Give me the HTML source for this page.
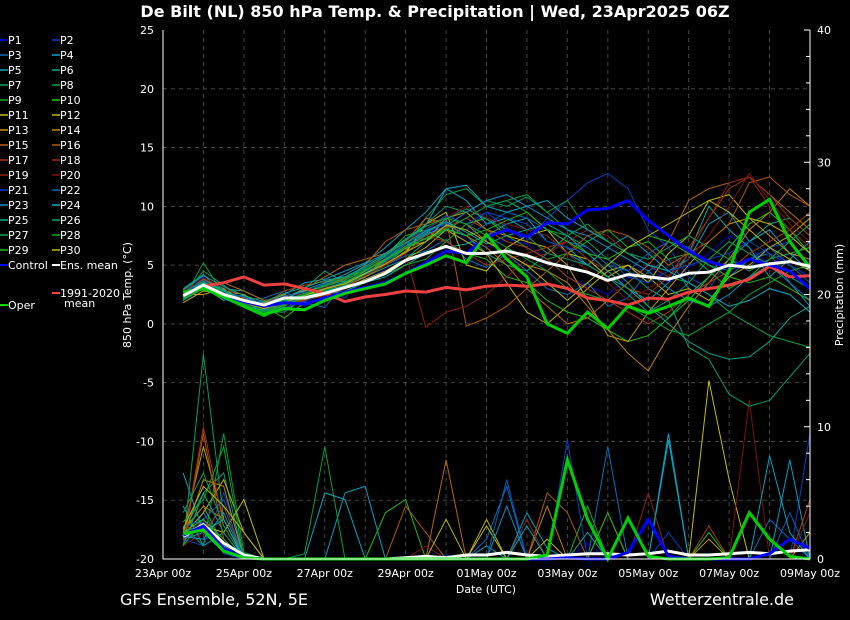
<!DOCTYPE html>
<html><head><meta charset="utf-8">
<style>
body{margin:0;background:#000;}
svg{display:block;font-family:"DejaVu Sans","Liberation Sans",sans-serif;}
</style></head>
<body>
<svg id="chart" width="850" height="620" viewBox="0 0 850 620">
<rect width="850" height="620" fill="#000"/>
<text x="435" y="17" fill="#fff" font-size="16" font-weight="bold" text-anchor="middle">De Bilt  (NL)  850 hPa Temp. &amp; Precipitation | Wed, 23Apr2025 06Z</text>
<g id="grid"></g>
<g id="precip"></g>
<g id="temps"></g>
<g id="axes"></g>
<g id="legend"></g>
<text x="131" y="295" fill="#fff" font-size="11" text-anchor="middle" transform="rotate(-90 131 295)">850 hPa Temp. (°C)</text>
<text x="843" y="295" fill="#fff" font-size="11" text-anchor="middle" transform="rotate(-90 843 295)">Precipitation (mm)</text>
<text x="486" y="593" fill="#fff" font-size="11" text-anchor="middle">Date (UTC)</text>
<text x="120" y="605" fill="#fff" font-size="16">GFS Ensemble, 52N, 5E</text>
<text x="794" y="605" fill="#fff" font-size="16" text-anchor="end">Wetterzentrale.de</text>
</svg>
<script>
// ---- data ----
const days0 = 0.5, stepDays = 0.5; // series start 23Apr 12z, 12-hourly
const xTickLabels = ["23Apr 00z","25Apr 00z","27Apr 00z","29Apr 00z","01May 00z","03May 00z","05May 00z","07May 00z","09May 00z"];
const yTicks = [25,20,15,10,5,0,-5,-10,-15,-20];
const y2Ticks = [40,30,20,10,0];
const ensMean = [2.4,3.3,2.5,2.0,1.6,2.2,2.2,2.6,3.1,3.6,4.3,5.4,6.0,6.6,6.0,6.0,6.2,5.8,5.2,4.8,4.4,3.7,4.2,4.0,3.8,4.3,4.4,5.0,4.8,5.1,5.3,4.9];
const control = [2.6,3.2,2.4,1.9,1.5,1.8,1.7,2.2,2.7,3.1,3.5,4.3,5.2,6.2,6.0,7.4,8.0,7.4,8.6,8.5,9.7,9.8,10.5,8.8,7.5,6.2,5.3,4.8,5.5,5.0,4.5,3.0];
const oper = [2.7,3.0,2.3,1.5,0.8,1.3,1.2,2.0,2.6,3.0,3.4,4.3,5.0,5.8,5.2,7.6,5.5,4.0,0.0,-0.8,1.0,-0.4,1.5,0.9,1.5,2.2,1.5,4.5,9.5,10.6,7.0,4.8];
const clim = [2.6,3.2,3.5,4.0,3.3,3.4,3.0,2.6,1.9,2.3,2.5,2.8,2.7,3.1,2.9,3.2,3.3,3.2,3.4,3.0,2.2,2.0,1.6,2.2,2.1,2.7,3.0,3.3,3.8,4.9,4.0,4.1];
const pertT = [
[2.8,4.0,2.6,1.8,1.2,2.0,1.5,2.4,3.0,3.8,4.6,6.0,7.5,8.8,7.0,6.5,7.2,6.8,5.5,4.0,3.2,2.5,4.0,5.0,3.5,4.8,6.0,7.5,6.5,5.0,6.0,5.5],
[2.2,3.6,2.0,2.5,1.0,1.5,2.8,3.0,2.2,4.0,5.5,6.5,7.8,8.5,8.0,9.5,8.2,7.0,9.0,10.5,12.0,12.8,11.5,8.0,6.5,4.0,3.0,5.5,4.8,6.5,7.0,5.0],
[2.5,3.0,3.2,2.0,2.2,2.8,1.8,1.4,3.5,4.2,5.0,5.8,6.2,7.2,5.5,4.8,6.0,4.5,3.0,2.5,3.5,1.5,2.2,4.5,5.5,3.0,2.0,4.0,5.5,6.0,3.5,2.0],
[2.0,3.5,2.8,1.5,0.8,2.5,3.5,3.8,4.5,5.2,6.5,8.0,9.5,11.5,10.5,8.5,9.0,8.0,7.5,6.0,5.0,6.5,7.5,6.0,4.5,5.5,8.5,9.5,7.0,8.0,6.0,4.5],
[3.0,4.2,2.5,2.2,1.8,1.2,2.0,2.5,2.8,3.5,4.0,5.0,6.0,6.5,6.8,7.5,8.5,9.0,7.0,6.5,5.0,4.0,3.0,2.0,3.5,6.0,10.0,8.0,6.5,4.0,5.5,7.0],
[2.6,3.8,3.0,2.8,2.0,2.2,3.0,4.5,3.5,4.0,4.8,5.5,7.0,8.0,7.5,6.0,5.0,4.5,6.0,7.5,6.5,5.0,3.5,1.5,0.5,2.5,4.0,5.5,7.0,8.5,9.0,7.5],
[2.4,4.5,3.3,2.0,1.0,1.0,2.2,3.2,3.8,4.5,5.5,6.8,8.5,10.0,9.5,10.5,10.0,10.8,9.5,8.0,7.0,5.5,4.5,3.0,2.0,-2.0,-3.0,-6.0,-7.0,-6.5,-4.5,-2.5],
[2.1,5.2,2.5,1.5,1.3,2.0,2.3,2.8,3.2,4.0,5.0,6.5,9.0,11.0,11.5,10.0,10.5,11.0,9.5,10.5,8.0,7.0,6.0,5.0,4.0,3.5,2.5,1.0,0.0,-1.0,-1.5,-2.0],
[2.9,3.4,2.2,1.4,0.6,1.5,2.5,3.0,3.0,3.5,4.2,5.0,5.5,7.0,8.5,9.0,7.5,6.5,5.5,6.0,7.0,8.0,6.5,7.0,5.5,6.0,4.5,3.0,4.0,5.5,6.0,6.5],
[2.3,3.1,2.0,2.4,1.5,0.5,1.8,3.5,4.0,4.5,5.8,7.5,8.0,7.0,6.0,5.5,4.0,3.5,2.0,1.0,0.5,-0.5,-1.5,-1.0,0.5,2.0,4.0,6.5,8.5,9.5,8.0,6.0],
[1.8,2.8,2.6,2.0,1.0,1.8,2.0,2.5,3.0,4.5,5.0,6.0,8.5,9.5,5.0,4.5,6.5,7.5,8.0,6.0,5.5,4.0,5.0,3.5,6.0,7.5,10.5,11.0,9.0,8.5,7.5,6.0],
[2.0,3.2,2.8,2.5,1.5,2.2,2.8,3.2,3.0,3.8,4.5,5.5,6.5,8.0,7.0,6.0,3.5,1.0,0.0,1.5,3.0,4.5,5.0,4.0,2.5,3.0,2.0,4.0,5.0,6.5,7.5,9.0],
[2.5,2.5,3.0,1.5,1.8,2.5,2.0,3.0,3.5,4.2,5.5,6.5,7.0,9.0,9.5,8.0,7.5,7.0,6.5,5.0,2.0,-1.0,-1.5,1.0,3.0,5.0,7.0,8.5,9.0,7.5,6.0,5.5],
[2.7,3.6,2.4,1.6,1.2,2.0,2.2,2.6,3.2,4.0,5.0,6.2,8.0,9.2,8.5,7.0,6.0,5.0,4.5,3.5,1.5,-0.5,-2.5,-4.0,-1.0,1.5,3.5,5.5,8.0,9.5,11.5,10.0],
[2.2,3.0,3.5,2.8,2.0,2.0,3.0,4.0,5.0,5.5,6.0,7.0,9.0,8.5,7.5,6.5,5.0,3.0,1.5,0.0,0.5,2.0,3.5,5.0,7.0,10.5,11.5,12.0,12.5,11.0,9.5,8.0],
[2.6,3.8,2.8,2.2,1.4,1.2,2.5,3.3,3.8,5.0,7.0,8.0,8.5,9.0,-0.2,0.5,1.5,3.0,4.5,6.0,7.5,8.0,7.5,6.5,5.0,6.0,7.0,8.5,12.0,12.5,11.0,10.0],
[3.0,3.5,2.6,1.8,1.6,2.8,3.3,3.6,4.0,4.8,5.5,6.5,7.5,8.2,9.0,8.0,7.0,6.5,5.5,4.0,3.0,2.0,1.0,0.0,1.0,2.5,3.5,4.5,6.0,7.0,8.0,9.5],
[2.4,3.0,2.2,1.9,1.1,1.6,2.0,2.4,3.0,4.4,5.2,6.0,7.5,7.0,6.0,5.0,5.5,6.0,6.5,7.0,5.5,4.5,3.0,2.5,4.0,6.5,9.0,11.5,12.5,11.0,9.0,7.5],
[2.1,3.3,2.5,1.7,1.3,1.7,2.1,2.9,3.4,4.1,5.0,6.0,-0.3,1.0,1.5,2.5,4.0,5.5,6.0,7.0,8.0,7.5,6.0,5.0,4.0,6.0,9.0,12.0,12.5,10.0,8.0,6.5],
[2.8,3.9,3.1,2.1,1.5,2.3,2.6,3.1,3.5,4.6,5.8,7.0,8.0,9.0,10.0,9.0,8.5,8.0,7.5,6.0,4.5,3.5,2.0,3.0,4.0,5.5,7.5,10.0,12.8,10.5,8.5,7.0],
[2.3,3.4,2.1,1.5,1.0,1.4,1.9,2.7,3.3,4.4,5.6,7.2,8.0,9.2,8.5,9.5,9.0,8.5,7.0,6.5,6.0,5.5,4.0,3.5,4.5,5.0,5.5,6.0,7.0,6.0,5.0,4.0],
[2.7,3.7,2.7,2.3,1.7,2.4,2.7,3.4,3.9,4.8,5.7,6.8,7.8,8.6,7.5,8.5,9.5,9.0,8.0,7.0,6.5,5.0,4.5,6.0,7.0,6.5,5.0,4.5,5.5,6.5,5.0,3.5],
[2.0,3.0,2.3,1.6,1.2,1.9,2.4,3.0,3.6,4.3,5.3,6.4,7.6,8.3,9.5,10.5,11.0,10.0,9.0,8.0,7.5,6.5,5.5,4.5,3.0,2.0,1.5,2.5,4.0,5.0,3.5,1.5],
[2.5,3.5,2.9,2.0,1.4,2.1,2.9,3.5,4.2,5.1,6.0,7.2,8.4,11.5,11.8,10.0,9.5,10.0,10.5,9.0,8.0,7.0,6.0,5.0,4.5,3.5,2.5,1.5,2.0,3.0,2.5,1.0],
[2.9,4.1,3.2,2.4,1.9,2.6,3.1,3.7,4.0,4.9,5.9,6.9,7.9,8.7,7.8,6.8,7.5,8.0,8.5,7.5,6.0,4.5,3.0,1.5,0.0,-1.5,-2.5,-3.0,-2.8,-1.5,0.5,1.5],
[2.2,3.1,2.4,1.7,1.0,1.7,2.3,2.8,3.3,4.2,5.4,6.6,7.7,8.9,9.8,8.9,8.0,7.5,6.0,5.5,5.0,4.0,2.5,1.0,2.0,3.5,5.5,7.0,6.0,5.0,4.0,3.0],
[2.6,3.6,2.6,2.1,1.6,2.0,2.6,3.2,3.7,4.6,5.5,6.6,7.2,8.0,9.0,10.0,10.5,9.5,8.0,7.5,8.5,7.0,6.0,5.5,6.5,7.5,6.5,5.5,4.5,5.5,7.0,8.5],
[2.4,3.4,2.8,1.9,1.1,1.9,2.5,3.3,3.9,4.7,5.8,7.1,8.3,9.0,8.5,7.5,6.5,5.5,4.5,3.0,2.5,2.0,1.5,0.5,-0.5,-1.0,0.0,1.0,2.5,3.5,4.5,5.0],
[2.1,3.0,2.4,1.6,0.9,1.6,2.2,2.9,3.5,4.5,5.5,6.4,7.3,8.1,7.5,8.0,8.8,9.5,8.0,7.0,6.0,5.5,6.5,7.5,7.0,6.0,5.0,4.0,3.5,4.0,3.0,2.0],
[2.3,3.2,2.5,1.8,1.3,1.8,2.4,3.0,3.4,4.3,5.1,6.1,7.0,8.4,8.0,7.0,6.0,5.0,3.5,2.0,3.5,5.0,6.5,7.5,8.5,9.5,10.5,9.5,8.0,6.5,5.5,4.5]
];
const meanP = [1.7,2.6,1.2,0.3,0.0,0.0,0.0,0.0,0.0,0.0,0.0,0.1,0.2,0.1,0.3,0.3,0.5,0.3,0.2,0.3,0.4,0.4,0.3,0.4,0.6,0.3,0.3,0.4,0.5,0.4,0.6,0.7];
const controlP = [1.8,2.5,0.8,0.1,0,0,0,0,0,0,0,0,0,0,0,0,0,0,0,0.1,0,0,0.5,3.0,0.2,0,0,0,0,0.4,1.5,0.8];
const operP = [1.9,2.2,0.6,0.1,0,0,0,0,0,0,0,0,0,0,0,0,0,0,0.3,7.5,3.0,0.0,3.1,0.2,0,0,0,0.1,3.5,1.5,0.2,0];
const pertP = [
[2.0,3.0,1.5,0,0,0,0,0,0,0,0,0,0,0,0,0,0,0,0,0,1.2,0,0,0,0,0,0,0,0,0,0,0],
[1.5,1.0,5.0,0.5,0,0,0,0,0,0,0,0,0,0.3,0,0,0,0,0,0,0,0,0,0,2.0,0,0,0,0,0,0,9.5],
[1.2,3.5,1.0,0,0,0,0,0,0,0,0,0,0,0,0,1.5,5.5,0,0,0,0,8.5,0,0,0,0,0,0,0,3.0,1.5,0],
[4.0,1.0,2.0,0,0,0,0,0,5.0,5.5,0,0,0,0,0,1.0,0,3.5,0.8,0,0,0,0,0,9.0,0,0,0,0,0,7.5,0],
[1.5,2.0,0.5,0,0,0,0,0,0,0,0,0,0,0,0,0,0,0,0,0,0,0,0,0,0,0,0,0,0,0,0,0],
[2.0,5.0,6.5,0,0,0,0,0.1,0,0,0,0,0,0,0,0,0,0,0,0,0,0,0,0,0,0,0,0,0,0,0,0],
[1.0,15.5,3.0,0,0,0,0,0,0,0,0,0,0,0,0,0,0,0,0,0,0,0,0,0,0,0,0,0,0,0,0,0],
[2.5,1.0,9.5,0.5,0,0,0.4,8.5,0,0,0,0,0,0,0,0,0,0,0,0,0,0,0,0,0,0,0,0,0,0,0,0],
[1.0,3.0,1.0,0,0,0,0,0,0,0,0,0,0,0,0,0,0,0,0,0,4.0,0,0,0,0,0,0,0,0,0,0,0],
[2.2,4.0,1.0,0,0,0,0,0,0,0,3.5,4.5,0,0,0,0,0,0,0,0,0,0,0,0,0,0,2.0,0,0,0,0,0],
[1.5,2.5,2.0,4.5,0,0,0,0,0,0,0,0,0,0,0,2.5,0,0,1.5,0,0,0,0,0,0,0,13.5,6.0,0,0,0,0],
[1.8,3.5,6.0,2.0,0,0,0,0,0,0,0,0,0,0,0,3.0,0,0,0,0,0,0,0,0,0,0,0,0,0,0,0,0],
[2.0,8.5,3.0,0,0,0,0,0,0,0,0,0,0,0,0,0,0,0,0,0,0,0,0,0,0,0,1.5,0,0,0,0,2.0],
[1.5,6.0,5.5,0,0,0,0,0,0,0,0,0,0,0,0,0,0,0,4.0,0,0,3.5,0,0,0,0,0,0,0,0,0,0],
[2.0,4.0,3.0,0,0,0,0,0,0,0,0,0,0,7.5,0,0,0,0,0,0,0,0,0,0,0,0,0,0,0,0,0,0],
[1.0,9.5,1.5,0,0,0,0,0,0,0,0,4.0,2.0,0,0,0,0,0,5.0,3.5,0,0,0,0,0,0,0,0,0,0,0,0],
[2.5,2.0,4.0,0,0,0,0,0,0,0,0,0,0,0,0,0,0,0,0,0,0,0,0,0,0,0,2.5,0,0,0,0,4.5],
[1.2,10.0,2.5,0,0,0,0,0,0,0,0,0,0,0,0,0,0,0,0,0,0,0,0,0,0,0,0,0,0,0,0,0],
[1.5,3.0,0.5,0,0,0,0,0,0,0,0,0,0,0,0,0,0,3.0,0,0,0,0,0,5.0,0,0,0,0,0,0,0,0],
[1.0,2.0,1.0,0,0,0,0,0,0,0,0,0,1.0,0,0,0,0,0,0,0,0,0,0,0,0,0,0,0,12.0,0,0,3.5],
[1.3,2.8,0.4,0,0,0,0,0,0,0,0,0,0,0,0,0,0,0,0,9.0,0,0,0,0,0,0,0,0,0,0,0,0],
[2.4,3.0,4.5,0,0,0,0,0,0,0,0,0,0,0,0,0,6.0,0,0,0,0,0,0,0,0,0,0,0,0,0,3.5,0],
[1.7,1.5,3.5,0,0,0,0,0,0,0,0,0,0,0,0,0,4.0,0,0,0,0,0,0,0,0,0,0,0,0,0,0,0],
[6.5,2.0,3.0,0,0,0,0,5.0,4.5,0,0,0,0,0,0,0,0,2.5,0,0,0,0,0,0,9.5,0,0,0,0,7.8,2.0,0],
[2.1,2.5,1.0,0,0,0,0,0,0,0,0,0,0,0,0,0,0,0,0,0,2.0,0,0,0,0,0,0,0,0,0,0,0],
[1.0,5.0,2.0,0,0,0,0,0,0,0,0,0,0,0,0,0,0,0,0,0,0,0,0,0,0,0,0,0,0,0,0,0],
[3.5,6.5,2.5,0,0,0,0,0,0,0,0,0,0,0,0,0,0,0,0,0,0,0,0,0,0,0,0,0,0,0,0,0],
[2.8,4.5,8.5,0,0,0,0,0,0,0,0,0,0,0,0,0,0,0,0,0,0,0,0,0,0,0,0,0,0,0,0,0],
[2.0,3.0,1.5,0,0,0,0,0,0,0,0,0,0,0,0,0,0,0,0,0,0,3.5,0,0,0,0,0,0,0,0,0,0],
[2.3,5.5,4.0,2.0,0,0,0,0,0,0,0,0,0,3.0,0,0,0,0,0,0,0,0,0,0,0,0,0,0,0,0,0,0]
];
const pertColors = ["#0000d0","#0040c8","#0070c0","#00a0c8","#00a8a8","#00a080","#00a060","#00a040","#10b020","#20c000",
"#c0c000","#c0b000","#c09800","#c08000","#b86800","#b05800","#a84000","#a03010","#902010","#801010",
"#0040c8","#0060c0","#0090c8","#00a8c0","#00a890","#00a070","#00a050","#00a830","#20b810","#b8b800"];
// ---- scales ----
const X0=163,X1=810,Y0=559,Y1=30;
const xs = d => X0 + d*(X1-X0)/16;
const ys = t => Y0 - (t+20)*(Y0-Y1)/45;
const yp = p => Y0 - p*(Y0-Y1)/40;
const NS="http://www.w3.org/2000/svg";
function mk(tag, attrs, parent){const e=document.createElementNS(NS,tag);for(const k in attrs)e.setAttribute(k,attrs[k]);parent.appendChild(e);return e;}
const grid=document.getElementById('grid'),axes=document.getElementById('axes'),temps=document.getElementById('temps'),precip=document.getElementById('precip'),legend=document.getElementById('legend');
// grid
for(let d=1; d<16; d++){
  const l=mk('line',{x1:xs(d),x2:xs(d),y1:Y1,y2:Y0,stroke:'#444','stroke-dasharray':'4,4','stroke-width':1},grid);
  
  
}
yTicks.forEach(t=>{
  if(t===-20||t===25) return;
  const l=mk('line',{x1:X0,x2:X1,y1:ys(t),y2:ys(t),stroke:'#444','stroke-dasharray':'4,4','stroke-width':1},grid);
  
  
});
// axes
const fr=mk('path',{d:`M${X0},${Y1}V${Y0}H${X1}V${Y1}`,stroke:'#fff',fill:'none','stroke-width':1},axes);


yTicks.forEach(t=>{
  const tx=mk('text',{x:154,y:ys(t)+4,fill:'#fff','font-size':11,'text-anchor':'end'},axes);
  tx.textContent=t;
  
  
});
for(let p=0;p<=40;p+=2){
  const len = p%10===0?6:4;
  const tk=mk('line',{x1:X1,x2:X1-len,y1:yp(p),y2:yp(p),stroke:'#fff','stroke-width':1},axes);
  
  
}
y2Ticks.forEach(p=>{
  const tx=mk('text',{x:817,y:yp(p)+4,fill:'#fff','font-size':11},axes);
  tx.textContent=p;
  
  
});
xTickLabels.forEach((lab,i)=>{
  const tx=mk('text',{x:xs(i*2),y:577,fill:'#fff','font-size':11,'text-anchor':'middle'},axes);
  tx.textContent=lab;
  
  
});
function pts(arr, f){return arr.map((v,i)=>`${xs(days0+i*stepDays).toFixed(1)},${f(v).toFixed(1)}`).join(' ');}
// precipitation
pertP.forEach((arr,i)=>{
  const pl=mk('polyline',{points:pts(arr,yp),fill:'none',stroke:pertColors[i],'stroke-width':1},precip);
  
  
});
[[meanP,'#fff',3,'precip-ens-mean'],[controlP,'#0000ff',3,'precip-control'],[operP,'#00d000',3,'precip-oper']].forEach(s=>{
  const pl=mk('polyline',{points:pts(s[0],yp),fill:'none',stroke:s[1],'stroke-width':s[2]},precip);
  
  
});
// temperatures
pertT.forEach((arr,i)=>{
  const pl=mk('polyline',{points:pts(arr,ys),fill:'none',stroke:pertColors[i],'stroke-width':1},temps);
  
  
});
[[clim,'#f04040',3,'temp-climatology'],[control,'#0000ff',3,'temp-control'],[oper,'#00d000',3,'temp-oper'],[ensMean,'#fff',3,'temp-ens-mean']].forEach(s=>{
  const pl=mk('polyline',{points:pts(s[0],ys),fill:'none',stroke:s[1],'stroke-width':s[2]},temps);
  
  
});
// legend
for(let i=0;i<30;i++){
  const col=i%2,row=Math.floor(i/2);
  const lx=col?52:0, y=40+row*15;
  const ln=mk('line',{x1:lx,x2:lx+8,y1:y,y2:y,stroke:pertColors[i],'stroke-width':1.5},legend);
  
  
  const tx=mk('text',{x:lx+8,y:y+4,fill:'#fff','font-size':11},legend);
  tx.textContent='P'+(i+1);
  
  
}
[[0,265,'#0000ff','Control'],[52,265,'#fff','Ens. mean'],[0,305,'#00d000','Oper'],[52,293,'#f04040','1991-2020']].forEach(e=>{
  const ln=mk('line',{x1:e[0],x2:e[0]+8,y1:e[1],y2:e[1],stroke:e[2],'stroke-width':2},legend);
  
  
  const tx=mk('text',{x:e[0]+8,y:e[1]+4,fill:'#fff','font-size':11},legend);
  tx.textContent=e[3];
  
  
});
const mt=mk('text',{x:64,y:307,fill:'#fff','font-size':11},legend);
mt.textContent='mean';


</script>
</body></html>
